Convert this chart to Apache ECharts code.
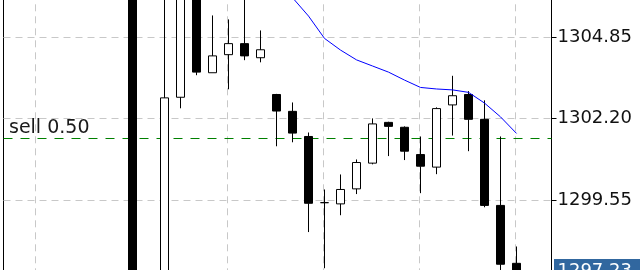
<!DOCTYPE html>
<html>
<head>
<meta charset="utf-8">
<script src="https://cdn.jsdelivr.net/npm/echarts@6/dist/echarts.min.js"></script>
<style>
html,body{margin:0;padding:0;background:#fff;}
#c{width:640px;height:270px;}
</style>
</head>
<body>
<div id="c"></div>
<script>
// ---- data (bar index along the chart, OHLC prices) ----
const barIndex = [8, 10, 11, 12, 13, 14, 15, 16, 17, 18, 19, 20, 21, 22, 23, 24, 25, 26, 27, 28, 29, 30, 31, 32];
const openPrice  = [1307.20, 1296.60, 1302.90, 1306.90, 1303.70, 1304.29, 1304.65, 1304.19, 1302.99, 1302.44, 1301.62, 1299.46, 1299.42, 1299.91, 1300.75, 1302.08, 1301.92, 1301.03, 1300.62, 1302.65, 1302.99, 1302.18, 1299.37, 1297.48];
const closePrice = [1296.70, 1302.88, 1306.60, 1303.72, 1304.25, 1304.65, 1304.25, 1304.45, 1302.45, 1301.73, 1299.44, 1299.46, 1299.89, 1300.77, 1302.03, 1301.95, 1301.14, 1300.65, 1302.53, 1302.95, 1302.18, 1299.37, 1297.45, 1297.23];
const lowPrice   = [1296.50, 1296.20, 1302.54, 1303.62, 1303.70, 1303.16, 1304.11, 1304.04, 1301.30, 1301.43, 1298.50, 1297.32, 1299.05, 1299.74, 1300.71, 1300.98, 1300.85, 1299.77, 1300.39, 1301.65, 1301.14, 1299.31, 1297.00, 1297.15];
const highPrice  = [1307.40, 1306.90, 1307.20, 1307.00, 1305.57, 1305.44, 1306.30, 1305.08, 1303.01, 1302.73, 1301.75, 1299.89, 1300.38, 1300.87, 1302.21, 1302.10, 1301.95, 1301.62, 1302.57, 1303.60, 1303.10, 1302.80, 1301.62, 1298.03];

// moving average (blue line)
const maIndex  = [18, 19, 20, 21, 22, 23, 24, 25, 26, 27, 28, 29, 30, 31, 32];
const maValues = [1306.15, 1305.55, 1304.82, 1304.44, 1304.12, 1303.92, 1303.72, 1303.46, 1303.22, 1303.17, 1303.14, 1303.06, 1302.71, 1302.26, 1301.72];

// price scale tick labels
const yTickLabels = ['1299.55', '1302.20', '1304.85'];
// bars carrying a vertical grid line
const gridBars = [2, 8, 14, 20, 26, 32];

// order level and current price
const sellLevel = 1301.55;
const sellText = 'sell 0.50';
const lastPrice = 1297.23;

// ---- chart ----
const yTicks = yTickLabels.map(Number);
const yStep = +(yTicks[1] - yTicks[0]).toFixed(2);
const yMin = +(yTicks[0] - yStep).toFixed(2);
const yMax = +(yTicks[yTicks.length - 1] + yStep).toFixed(2);

const xMin = -0.0625;
const xMax = 34.1875;
const gridXs = gridBars.map(b => b - 0.0625);

const FONT = 'DejaVu Sans';

const candleData = barIndex.map((x, k) => [x, openPrice[k], closePrice[k], lowPrice[k], highPrice[k]]);
const maData = maIndex.map((x, k) => [x, maValues[k]]);

const chart = echarts.init(document.getElementById('c'), null, {renderer: 'canvas'});
chart.setOption({
  animation: false,
  backgroundColor: '#ffffff',
  grid: {
    left: 3.5, right: 88.5, top: -43.7, height: 324.8,
    outerBoundsMode: 'none', containLabel: false,
    show: true, borderColor: '#000000', borderWidth: 1, backgroundColor: 'transparent'
  },
  xAxis: {
    type: 'value', min: xMin, max: xMax,
    axisLine: {show: false, onZero: false},
    axisTick: {show: false, customValues: gridXs},
    axisLabel: {show: false},
    splitLine: {show: true, lineStyle: {color: '#c8c8c8', width: 1, type: [7, 5]}}
  },
  yAxis: {
    type: 'value', position: 'right', min: yMin, max: yMax, interval: yStep,
    axisLine: {show: true, onZero: false, lineStyle: {color: '#000000', width: 1}},
    axisTick: {show: true, inside: false, length: 5, lineStyle: {color: '#000000', width: 1}},
    axisLabel: {
      margin: 6, color: '#111111', fontFamily: FONT, fontSize: 18,
      formatter: v => v.toFixed(2)
    },
    splitLine: {show: true, lineStyle: {color: '#c8c8c8', width: 1, type: [7, 5]}}
  },
  series: [
    {
      type: 'candlestick',
      data: candleData,
      barWidth: 8,
      clip: false,
      silent: true,
      itemStyle: {
        color: '#ffffff', color0: '#000000',
        borderColor: '#000000', borderColor0: '#000000', borderColorDoji: '#000000',
        borderWidth: 1
      },
      markLine: {
        silent: true,
        z: 1,
        symbol: ['none', 'none'],
        animation: false,
        data: [
          {
            yAxis: sellLevel,
            lineStyle: {color: '#008000', width: 1, type: [9, 8]},
            label: {
              show: true, position: 'insideStartTop', formatter: sellText,
              distance: [5.5, 1], color: '#1a1a1a', fontFamily: FONT, fontSize: 19
            }
          },
          {
            yAxis: lastPrice,
            lineStyle: {color: 'rgba(255,255,255,0)', width: 1, type: 'solid'},
            label: {
              show: true, position: 'end', formatter: lastPrice.toFixed(2),
              distance: [2.5, 0], color: '#ffffff', fontFamily: FONT, fontSize: 18,
              backgroundColor: '#31679f', padding: [6, 16, 0, 3.5]
            }
          }
        ]
      }
    },
    {
      type: 'line',
      data: maData,
      symbol: 'none',
      silent: true,
      z: 3,
      lineStyle: {color: '#0000ff', width: 1}
    }
  ]
});
</script>
</body>
</html>
